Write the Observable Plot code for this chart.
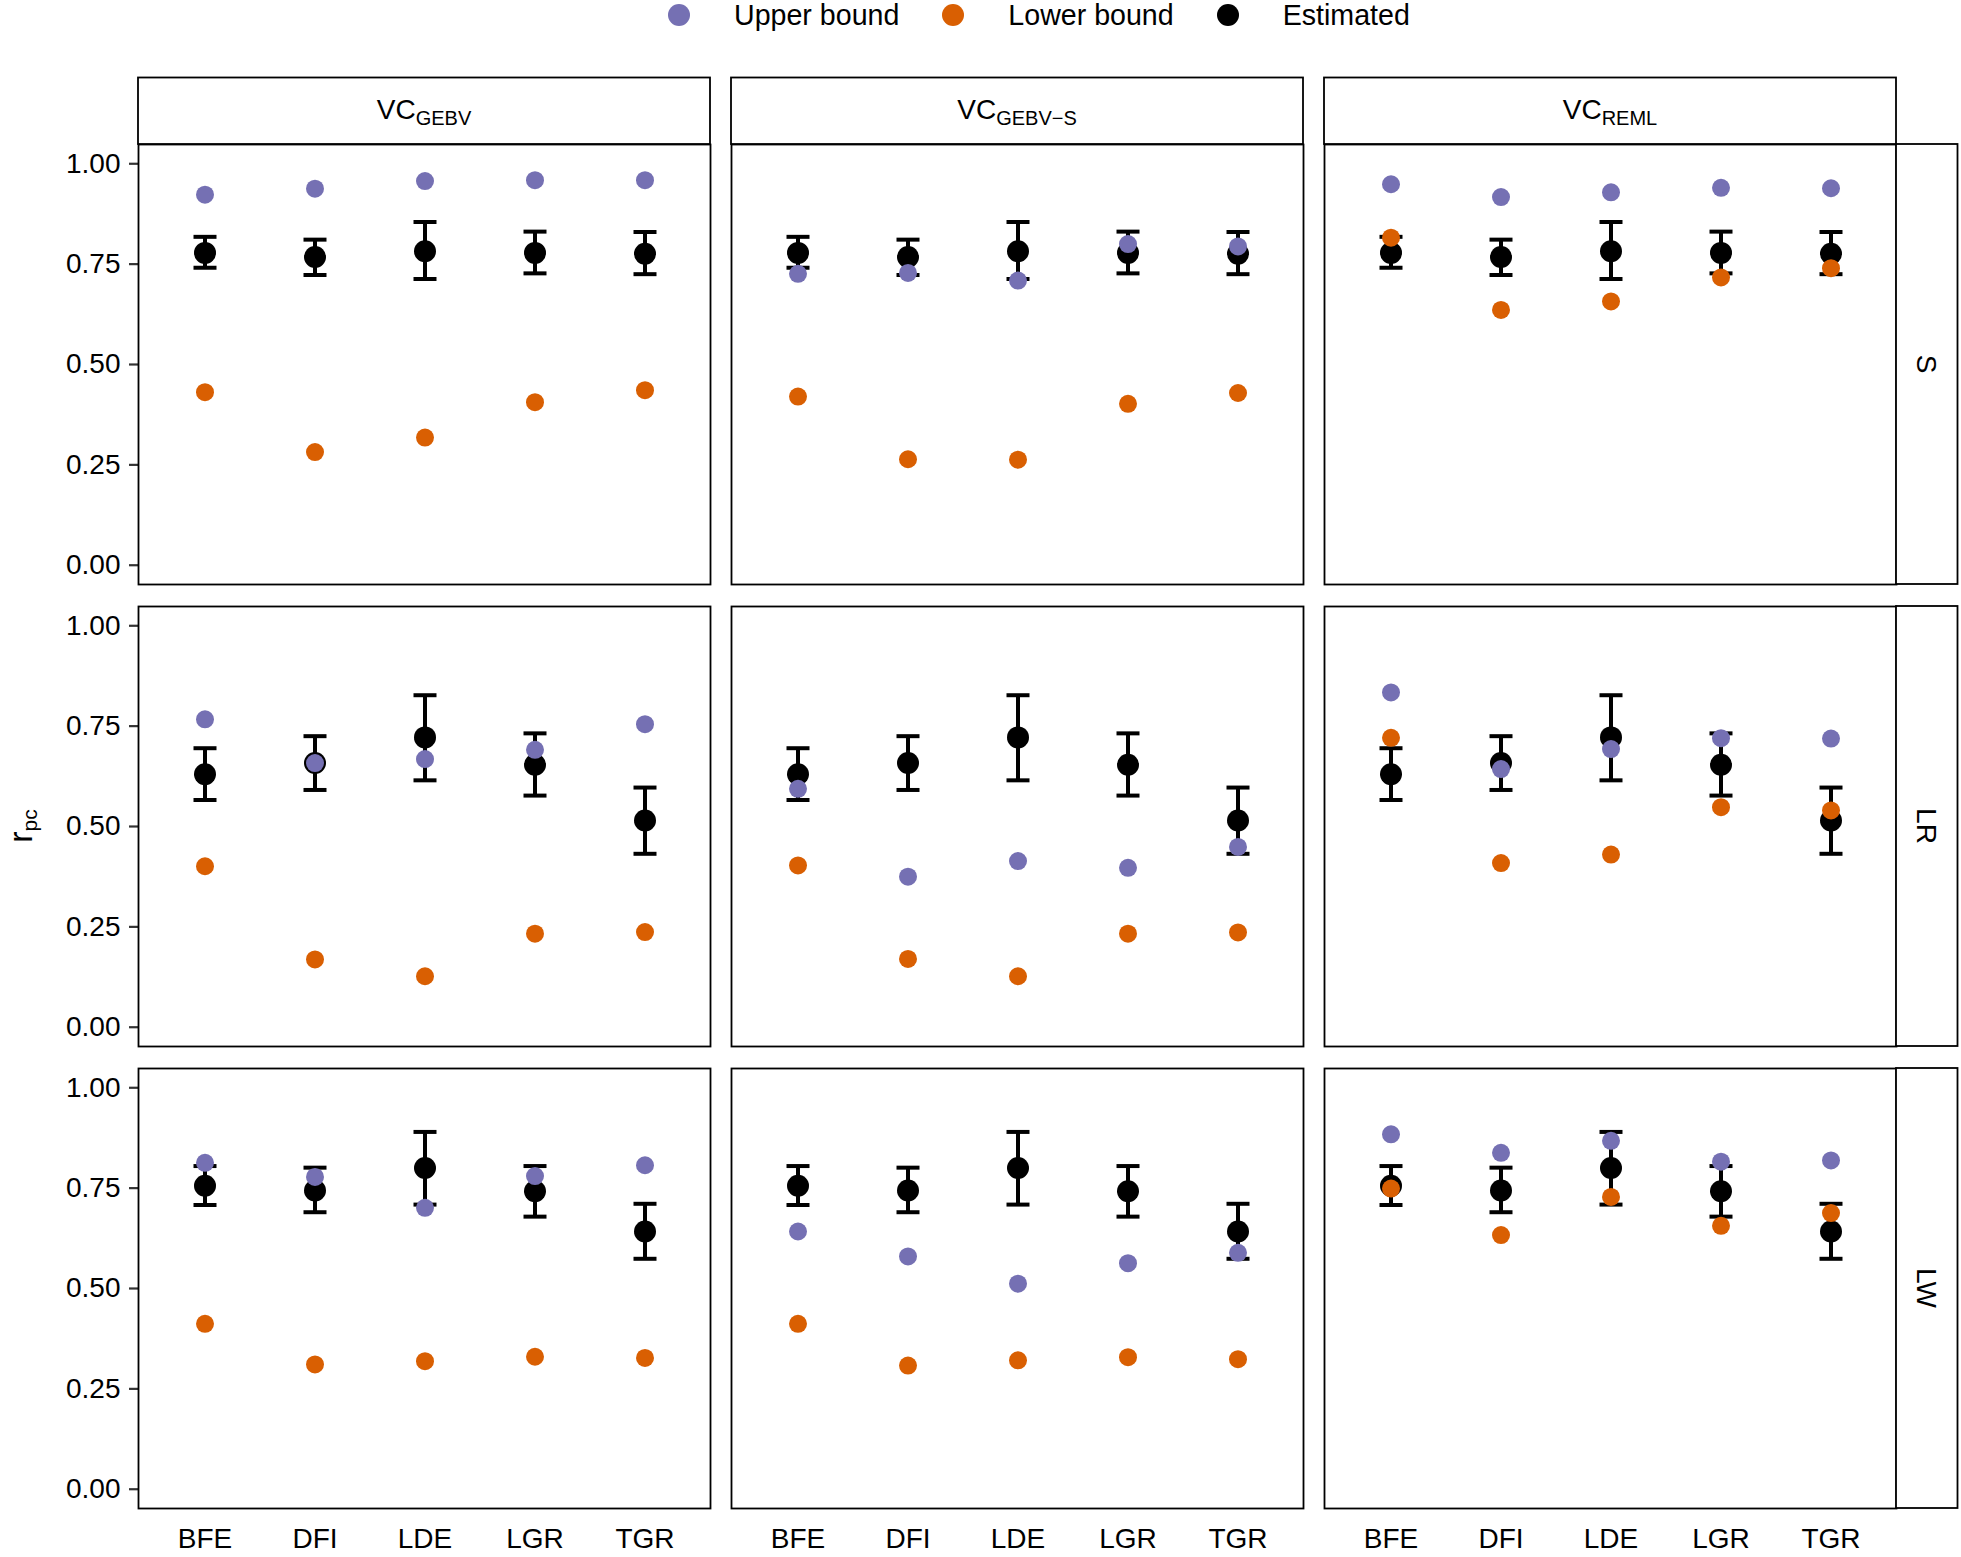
<!DOCTYPE html>
<html>
<head>
<meta charset="utf-8">
<script src="https://cdn.jsdelivr.net/npm/d3@7"></script>
<script src="https://cdn.jsdelivr.net/npm/@observablehq/plot@0.6"></script>
<style>
  html, body { margin: 0; padding: 0; background: #fff; }
  body { width: 1961px; height: 1557px; overflow: hidden; font-family: "Liberation Sans", Arial, sans-serif; }
  #legend { height: 30px; padding-bottom: 4px; display: flex; align-items: center; padding-left: 668px; font-size: 28.6px; color: #000; }
  #legend .sw { width: 22px; height: 22px; border-radius: 50%; margin-right: 44px; flex: none; }
  #legend .lb { margin-right: 43px; white-space: nowrap; }
  #chart svg { display: block; }
  #chart svg text { font-family: "Liberation Sans", Arial, sans-serif; font-size: 28px; fill: #000; }
  #chart svg g[aria-label="y-axis tick"] path,
  #chart svg g[aria-label="y-axis"] .tick line { stroke: #333; stroke-width: 2.2; }
</style>
</head>
<body>
<div id="legend"></div>
<div id="chart"></div>
<script>
// ---------------- data ----------------
const traits = ["BFE", "DFI", "LDE", "LGR", "TGR"];
const methods = ["VC_GEBV", "VC_GEBV-S", "VC_REML"];
const methodSub = ["GEBV", "GEBV\u2212S", "REML"];
const scenarios = ["S", "LR", "LW"];
const seriesLabels = ["Upper bound", "Lower bound", "Estimated"];
const seriesColors = ["#7570B3", "#D95F02", "#000000"];
const yTicks = [0, 0.25, 0.5, 0.75, 1];

// Estimated r_pc with error bar limits (per scenario, same across VC methods)
const estS  = [0.778, 0.768, 0.782, 0.778, 0.776];
const loS   = [0.741, 0.723, 0.713, 0.727, 0.725];
const hiS   = [0.818, 0.811, 0.855, 0.831, 0.830];
const estLR = [0.630, 0.658, 0.722, 0.654, 0.515];
const loLR  = [0.566, 0.591, 0.615, 0.577, 0.432];
const hiLR  = [0.695, 0.725, 0.827, 0.732, 0.597];
const estLW = [0.756, 0.744, 0.800, 0.742, 0.642];
const loLW  = [0.708, 0.690, 0.709, 0.679, 0.574];
const hiLW  = [0.805, 0.801, 0.890, 0.805, 0.711];

// Upper / lower bounds per method and scenario
const upperGEBV_S   = [0.923, 0.938, 0.957, 0.959, 0.959];
const lowerGEBV_S   = [0.431, 0.282, 0.318, 0.406, 0.436];
const upperGEBVS_S  = [0.726, 0.728, 0.709, 0.800, 0.794];
const lowerGEBVS_S  = [0.420, 0.264, 0.263, 0.402, 0.429];
const upperREML_S   = [0.949, 0.917, 0.929, 0.940, 0.939];
const lowerREML_S   = [0.816, 0.636, 0.657, 0.717, 0.740];

const upperGEBV_LR  = [0.767, 0.658, 0.668, 0.691, 0.755];
const lowerGEBV_LR  = [0.401, 0.169, 0.127, 0.233, 0.237];
const upperGEBVS_LR = [0.594, 0.375, 0.414, 0.397, 0.449];
const lowerGEBVS_LR = [0.403, 0.170, 0.127, 0.233, 0.236];
const upperREML_LR  = [0.834, 0.643, 0.693, 0.720, 0.719];
const lowerREML_LR  = [0.721, 0.409, 0.430, 0.548, 0.540];

const upperGEBV_LW  = [0.813, 0.778, 0.701, 0.780, 0.807];
const lowerGEBV_LW  = [0.412, 0.311, 0.319, 0.330, 0.327];
const upperGEBVS_LW = [0.642, 0.580, 0.512, 0.563, 0.589];
const lowerGEBVS_LW = [0.412, 0.308, 0.321, 0.329, 0.324];
const upperREML_LW  = [0.884, 0.838, 0.868, 0.816, 0.819];
const lowerREML_LW  = [0.749, 0.633, 0.728, 0.656, 0.688];

// ---------------- tidy table ----------------
const estSets = [[estS, loS, hiS], [estLR, loLR, hiLR], [estLW, loLW, hiLW]];
const boundSets = [
  [[upperGEBV_S, lowerGEBV_S], [upperGEBVS_S, lowerGEBVS_S], [upperREML_S, lowerREML_S]],
  [[upperGEBV_LR, lowerGEBV_LR], [upperGEBVS_LR, lowerGEBVS_LR], [upperREML_LR, lowerREML_LR]],
  [[upperGEBV_LW, lowerGEBV_LW], [upperGEBVS_LW, lowerGEBVS_LW], [upperREML_LW, lowerREML_LW]]
];
const data = [];
scenarios.forEach((s, si) => methods.forEach((m, mi) => traits.forEach((t, ti) => {
  data.push({
    scenario: s, method: m, trait: t,
    upper: boundSets[si][mi][0][ti], lower: boundSets[si][mi][1][ti],
    est: estSets[si][0][ti], lo: estSets[si][1][ti], hi: estSets[si][2][ti]
  });
})));

// ---------------- legend ----------------
const legend = d3.select("#legend");
seriesLabels.forEach((lab, i) => {
  legend.append("div").attr("class", "sw").style("background", seriesColors[i]);
  legend.append("div").attr("class", "lb").text(lab);
});

// horizontal cap symbol for error bars
const capSymbol = {
  draw(context, size) {
    const w = Math.sqrt(size / Math.PI);
    context.moveTo(-w, 0);
    context.lineTo(w, 0);
  }
};

const chart = Plot.plot({
  width: 1961,
  height: 1523,
  marginTop: 110,
  marginRight: 63.5,
  marginBottom: 49,
  marginLeft: 137.5,
  style: {background: "white", color: "black", fontFamily: "Liberation Sans, Arial, sans-serif", fontSize: "28px", overflow: "visible"},
  facet: {data, x: "method", y: "scenario", marginTop: 0, marginRight: 0, marginBottom: 0, marginLeft: 0},
  fx: {domain: methods, paddingInner: 0.0354, paddingOuter: 0, axis: null},
  fy: {domain: scenarios, paddingInner: 0.0477, paddingOuter: 0, axis: null},
  x: {type: "point", domain: traits, padding: 0.6, tickSize: 0, tickPadding: 20, label: null},
  y: {domain: [-0.048, 1.048], ticks: yTicks, tickFormat: d3.format(".2f"), tickSize: 9, tickPadding: 9, label: null},
  marks: [
    Plot.ruleX(data, {x: "trait", y1: "lo", y2: "hi", stroke: "black", strokeWidth: 4}),
    Plot.dot(data, {x: "trait", y: "hi", symbol: capSymbol, r: 11.5, stroke: "black", strokeWidth: 4, fill: "none"}),
    Plot.dot(data, {x: "trait", y: "lo", symbol: capSymbol, r: 11.5, stroke: "black", strokeWidth: 4, fill: "none"}),
    Plot.dot(data, {x: "trait", y: "est", r: 11, fill: seriesColors[2]}),
    Plot.dot(data, {x: "trait", y: "upper", r: 9, fill: seriesColors[0]}),
    Plot.dot(data, {x: "trait", y: "lower", r: 9, fill: seriesColors[1]}),
    Plot.frame({stroke: "black", strokeWidth: 1.8})
  ]
});
document.getElementById("chart").appendChild(chart);

// ---------------- facet strips (from Plot's own fx / fy scales) ----------------
function bandOf(s) {
  const b = d3.scaleBand(s.domain, s.range)
    .paddingInner(s.paddingInner ?? 0).paddingOuter(s.paddingOuter ?? 0)
    .align(s.align ?? 0.5).round(!!s.round);
  const f = typeof s.apply === "function" ? s.apply : b;
  return {f, bw: s.bandwidth ?? b.bandwidth()};
}
const svgNode = chart.tagName.toLowerCase() === "svg" ? chart : chart.querySelector("svg");
const svg = d3.select(svgNode);
const FX = bandOf(chart.scale("fx"));
const FY = bandOf(chart.scale("fy"));
const stripH = 66.5, stripW = 61.5;
const g = svg.append("g").attr("aria-label", "strips");

methods.forEach((m, i) => {
  const x0 = FX.f(m), y0 = FY.f(scenarios[0]) - stripH;
  g.append("rect").attr("x", x0).attr("y", y0).attr("width", FX.bw).attr("height", stripH)
    .attr("fill", "white").attr("stroke", "black").attr("stroke-width", 1.8);
  const t = g.append("text").attr("x", x0 + FX.bw / 2).attr("y", y0 + stripH / 2 - 2)
    .attr("text-anchor", "middle").attr("dy", "0.35em");
  t.append("tspan").text("VC");
  t.append("tspan").attr("dy", 6).style("font-size", "20px").text(methodSub[i]);
});

const xRight = FX.f(methods[methods.length - 1]) + FX.bw;
scenarios.forEach(s => {
  const y0 = FY.f(s);
  g.append("rect").attr("x", xRight).attr("y", y0).attr("width", stripW).attr("height", FY.bw)
    .attr("fill", "white").attr("stroke", "black").attr("stroke-width", 1.8);
  g.append("text").attr("transform", `translate(${xRight + stripW / 2},${y0 + FY.bw / 2}) rotate(90)`)
    .attr("text-anchor", "middle").attr("dy", "0.35em").text(s);
});

// y-axis title r_pc
const yMid = (FY.f(scenarios[0]) + FY.f(scenarios[scenarios.length - 1]) + FY.bw) / 2;
const yt = g.append("text").attr("transform", `translate(32,${yMid}) rotate(-90)`).attr("text-anchor", "middle");
yt.append("tspan").style("font-size", "34px").text("r");
yt.append("tspan").attr("dy", 5).style("font-size", "21px").text("pc");
</script>
</body>
</html>
